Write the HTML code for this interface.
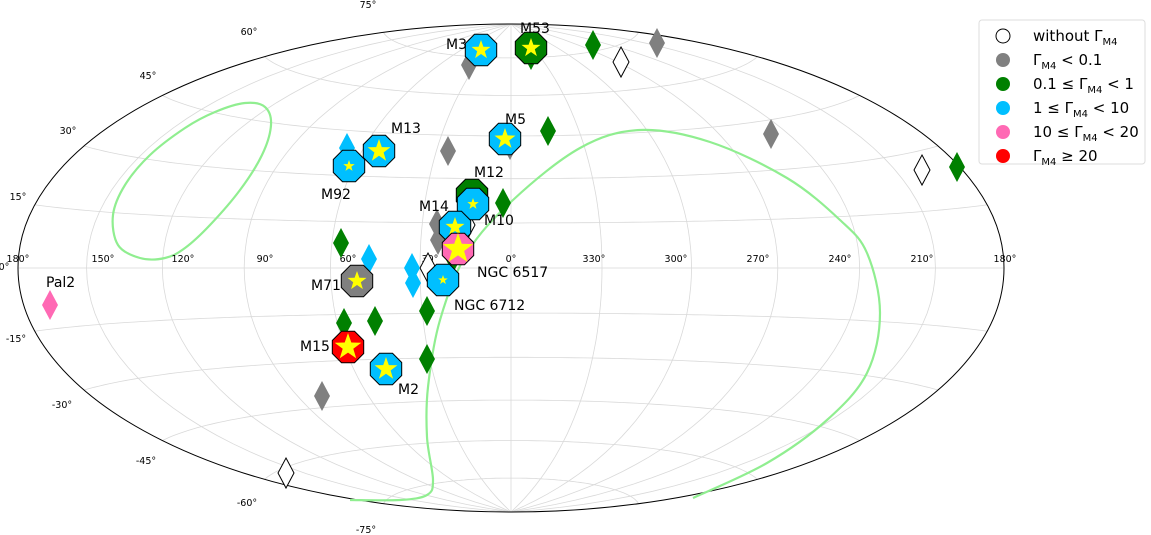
<!DOCTYPE html>
<html><head><meta charset="utf-8"><style>
body{margin:0;background:#fff;}
svg{display:block;font-family:"DejaVu Sans","Liberation Sans",sans-serif;}
</style></head><body>
<svg id="s" width="1151" height="535" viewBox="0 0 1151 535" xmlns="http://www.w3.org/2000/svg">
<g id="grid" fill="none" stroke="#d9d9d9" stroke-width="0.8"></g>
<ellipse cx="511" cy="268" rx="493" ry="244" fill="none" stroke="#000" stroke-width="1"/>
<g id="green" fill="none" stroke="#90ee90" stroke-width="2.2" stroke-linejoin="round"></g>
<g id="ticks" font-size="9.5" fill="#000"></g>
<g id="mk"></g>
<g font-size="14" fill="#000">
<text x="446" y="49">M3</text><text x="520" y="33">M53</text><text x="505" y="124">M5</text>
<text x="391" y="133">M13</text><text x="321" y="199">M92</text><text x="474" y="177">M12</text>
<text x="419" y="211">M14</text><text x="484" y="225">M10</text><text x="477" y="277">NGC 6517</text>
<text x="311" y="290">M71</text><text x="454" y="310">NGC 6712</text><text x="300" y="351">M15</text>
<text x="398" y="394">M2</text><text x="46" y="287">Pal2</text>
</g>
<g>
<rect x="979" y="20" width="166" height="144" rx="3" fill="#fff" stroke="#ddd"/>
<g font-size="15" fill="#000">
<circle cx="1003" cy="36" r="7" fill="#fff" stroke="#000"/><text x="1033" y="41">without Γ<tspan font-size="10" dy="4">M4</tspan></text>
<circle cx="1003" cy="60" r="7" fill="#808080"/><text x="1033" y="65">Γ<tspan font-size="10" dy="4">M4</tspan><tspan dy="-4"> &lt; 0.1</tspan></text>
<circle cx="1003" cy="84" r="7" fill="#008000"/><text x="1033" y="89">0.1 ≤ Γ<tspan font-size="10" dy="4">M4</tspan><tspan dy="-4"> &lt; 1</tspan></text>
<circle cx="1003" cy="108" r="7" fill="#00bfff"/><text x="1033" y="113">1 ≤ Γ<tspan font-size="10" dy="4">M4</tspan><tspan dy="-4"> &lt; 10</tspan></text>
<circle cx="1003" cy="132" r="7" fill="#ff69b4"/><text x="1033" y="137">10 ≤ Γ<tspan font-size="10" dy="4">M4</tspan><tspan dy="-4"> &lt; 20</tspan></text>
<circle cx="1003" cy="156" r="7" fill="#ff0000"/><text x="1033" y="161">Γ<tspan font-size="10" dy="4">M4</tspan><tspan dy="-4"> ≥ 20</tspan></text>
</g></g>
</svg>
<script>
var NS="http://www.w3.org/2000/svg";
function el(p,t,a,txt){var e=document.createElementNS(NS,t);for(var k in a)e.setAttribute(k,a[k]);if(txt)e.textContent=txt;p.appendChild(e);return e;}
function P(l,b){l=l*Math.PI/180;b=b*Math.PI/180;var d=Math.sqrt(1+Math.cos(b)*Math.cos(l/2));
var x=2*Math.SQRT2*Math.cos(b)*Math.sin(l/2)/d,y=Math.SQRT2*Math.sin(b)/d;
return [511-x/(2*Math.SQRT2)*493,268-y/Math.SQRT2*244];}
var g=document.getElementById('grid');
for(var b=-75;b<=75;b+=15){var d="";for(var l=-180;l<=180;l+=3){var p=P(l,b);d+=(l==-180?"M":"L")+p[0].toFixed(1)+","+p[1].toFixed(1);}el(g,'path',{d:d});}
for(var l=-150;l<=150;l+=30){var d="";for(var b=-90;b<=90;b+=3){var p=P(l,b);d+=(b==-90?"M":"L")+p[0].toFixed(1)+","+p[1].toFixed(1);}el(g,'path',{d:d});}
function smooth(pts,closed){var n=pts.length,d="M"+pts[0][0]+","+pts[0][1];
function q(i){return closed?pts[(i+n)%n]:pts[Math.max(0,Math.min(n-1,i))];}
var m=closed?n:n-1;for(var i=0;i<m;i++){var p0=q(i-1),p1=q(i),p2=q(i+1),p3=q(i+2);
d+="C"+(p1[0]+(p2[0]-p0[0])/6).toFixed(1)+","+(p1[1]+(p2[1]-p0[1])/6).toFixed(1)+" "+(p2[0]-(p3[0]-p1[0])/6).toFixed(1)+","+(p2[1]-(p3[1]-p1[1])/6).toFixed(1)+" "+p2[0]+","+p2[1];}
return d;}
var gr=document.getElementById('green');
el(gr,'path',{d:smooth([[245,103],[265,107],[271,125],[262,155],[240,190],[210,225],[185,248],[165,258],[140,258],[118,245],[113,215],[125,185],[150,155],[185,128],[215,112]],true)});
el(gr,'path',{d:smooth([[350,500],[400,500],[427,495],[433,480],[427,437],[428,387],[440,320],[467,253],[513,200],[580,148],[640,130],[710,142],[787,178],[840,220],[867,253],[880,313],[867,373],[827,420],[767,463],[693,498]],false)});
var t=document.getElementById('ticks');
[["75°",368,8],["60°",249,35],["45°",148,79],["30°",68,134],["15°",18,200],["0°",4,270],["-15°",16,342],["-30°",62,408],["-45°",146,464],["-60°",247,506],["-75°",366,533]].forEach(function(a){el(t,'text',{x:a[1],y:a[2],'text-anchor':'middle'},a[0]);});
[["180°",18],["150°",103],["120°",183],["90°",265],["60°",348],["30°",430],["0°",511],["330°",594],["300°",676],["270°",758],["240°",840],["210°",922],["180°",1005]].forEach(function(a){el(t,'text',{x:a[1],y:262,'text-anchor':'middle'},a[0]);});
var C={w:"#fff",g:"#808080",G:"#008000",b:"#00bfff",p:"#ff69b4",r:"#ff0000"};
var m=document.getElementById('mk');
function dia(x,y,c){el(m,'polygon',{points:(x)+","+(y-15)+" "+(x+8)+","+y+" "+x+","+(y+15)+" "+(x-8)+","+y,fill:C[c],stroke:c=="w"?"#000":"none","stroke-width":1});}
function star(x,y,r){var s="";for(var i=0;i<10;i++){var a=-Math.PI/2+i*Math.PI/5,rr=i%2?r*0.4:r;s+=(x+rr*Math.cos(a)).toFixed(1)+","+(y+rr*Math.sin(a)).toFixed(1)+" ";}el(m,'polygon',{points:s,fill:"#ffff00"});}
function oct(x,y,c,sr){var s="";for(var i=0;i<8;i++){var a=Math.PI/8+i*Math.PI/4;s+=(x+17*Math.cos(a)).toFixed(1)+","+(y+17*Math.sin(a)).toFixed(1)+" ";}el(m,'polygon',{points:s,fill:C[c],stroke:"#000","stroke-width":1});star(x,y,sr);}
[[347,148,"b"],[469,65,"g"],[531,55,"G"],[593,45,"G"],[621,62,"w"],[657,43,"g"],[448,151,"g"],[510,145,"g"],[548,131,"G"],[771,134,"g"],[922,170,"w"],[957,167,"G"],[503,203,"G"],[437,224,"g"],[438,240,"g"],[467,225,"w"],[341,243,"G"],[369,259,"b"],[428,268,"w"],[412,268,"b"],[413,283,"b"],[453,258,"G"],[344,323,"G"],[375,321,"G"],[427,311,"G"],[427,359,"G"],[322,396,"g"],[286,473,"w"],[50,305,"p"]].forEach(function(a){dia(a[0],a[1],a[2]);});
oct(481,50,"b",10);oct(531,48,"G",10);oct(505,139,"b",11);oct(379,151,"b",12);oct(349,166,"b",6);
oct(472,195,"G",7);oct(473,204,"b",6);oct(455,227,"b",10);oct(458,249,"p",16);oct(357,281,"g",10);
oct(443,280,"b",5);oct(348,347,"r",14);oct(386,369,"b",12);
</script>
</body></html>
